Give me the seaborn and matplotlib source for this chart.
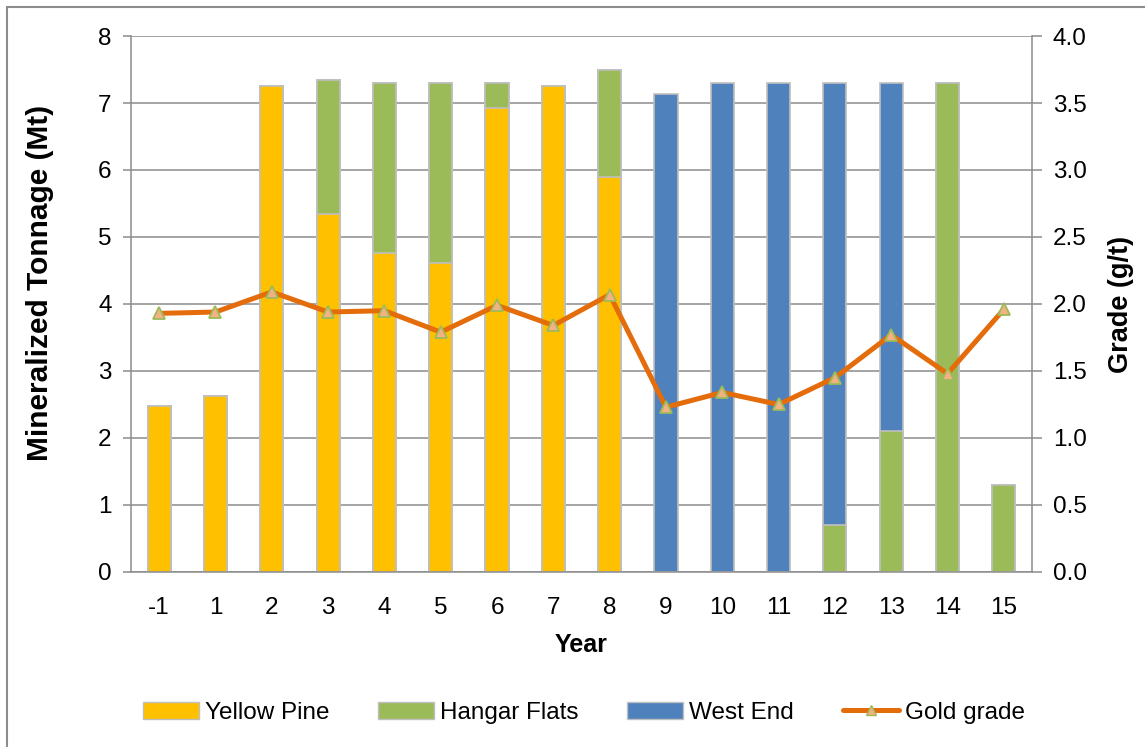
import numpy as np
import pandas as pd
import seaborn as sns
import matplotlib.pyplot as plt
from matplotlib.patches import Rectangle, Patch
from matplotlib.lines import Line2D

# data
years = ["-1", "1", "2", "3", "4", "5", "6", "7", "8", "9", "10", "11", "12", "13", "14", "15"]
yellow_pine = [2.48, 2.63, 7.25, 5.34, 4.76, 4.61, 6.93, 7.25, 5.90, 0, 0, 0, 0, 0, 0, 0]
hangar_flats = [0, 0, 0, 2.00, 2.54, 2.69, 0.37, 0, 1.59, 0, 0, 0, 0.70, 2.10, 7.30, 1.30]
west_end = [0, 0, 0, 0, 0, 0, 0, 0, 0, 7.13, 7.30, 7.30, 6.60, 5.20, 0, 0]
gold_grade = [1.93, 1.94, 2.09, 1.94, 1.95, 1.79, 1.99, 1.84, 2.07, 1.23, 1.34, 1.25, 1.45, 1.77, 1.48, 1.96]

c_yp = "#FFC000"
c_hf = "#9BBB59"
c_we = "#4F81BD"
c_line = "#E46C0A"
edge = "#BFBFBF"
grid = "#8C8C8C"

df = pd.DataFrame({"year": years, "yp": yellow_pine, "hf": hangar_flats, "we": west_end})
df["cum_hf"] = df["yp"] + df["hf"]
df["cum_we"] = df["cum_hf"] + df["we"]

sns.set_style("white")
plt.rcParams["font.family"] = ["Liberation Sans", "DejaVu Sans"]
plt.rcParams["text.color"] = "black"
plt.rcParams["axes.labelcolor"] = "black"

fs = 17.5

fig = plt.figure(figsize=(11.45, 7.47), dpi=100)
ax = fig.add_axes([0.1144, 0.2343, 0.7869, 0.7175])

# stacked bars: draw cumulative heights, tallest first
bar_kw = dict(width=0.41, edgecolor=edge, linewidth=1.2, order=years, ax=ax, zorder=2)
sns.barplot(data=df, x="year", y="cum_we", color=c_we, saturation=1, **bar_kw)
sns.barplot(data=df, x="year", y="cum_hf", color=c_hf, saturation=1, **bar_kw)
sns.barplot(data=df, x="year", y="yp", color=c_yp, saturation=1, **bar_kw)

ax.set_xlim(-0.5, len(years) - 0.5)
ax.set_ylim(0, 8)
ax.set_yticks(range(0, 9))
ax.yaxis.grid(True, color=grid, linewidth=1.1, zorder=0)
ax.set_axisbelow(True)
ax.set_xlabel("Year", fontsize=18, fontweight="bold", labelpad=10)
ax.set_ylabel("Mineralized Tonnage (Mt)", fontsize=21.5, fontweight="bold")
ax.yaxis.set_label_coords(-0.085, 0.54)
ax.tick_params(axis="x", which="major", length=0, labelsize=fs, pad=18, labelcolor="black")
ax.set_xticks(np.arange(-0.5, len(years)), minor=True)
ax.tick_params(axis="x", which="minor", length=6, color=grid, width=1.1, direction="out")
ax.tick_params(axis="y", length=6, color=grid, width=1.1, labelsize=fs, pad=8, left=True,
               labelcolor="black")

for side in ["left", "right", "bottom"]:
    ax.spines[side].set_color(grid)
    ax.spines[side].set_linewidth(1.1)
ax.spines["top"].set_visible(False)

ax2 = ax.twinx()
sns.lineplot(x=np.arange(len(years)), y=gold_grade, ax=ax2, color=c_line, linewidth=3.6,
             marker="^", markersize=8, markerfacecolor="#F4B183", markeredgecolor=c_hf,
             markeredgewidth=1.3, zorder=5)
ax2.set_ylim(0, 4)
ax2.set_yticks(np.arange(0, 4.01, 0.5))
ax2.set_yticklabels([f"{v:.1f}" for v in np.arange(0, 4.01, 0.5)])
ax2.set_ylabel("Grade (g/t)", fontsize=19.5, fontweight="bold", labelpad=15)
ax2.tick_params(axis="y", length=7, color=grid, width=1.1, labelsize=fs, pad=8, right=True,
                labelcolor="black")
for s in ax2.spines.values():
    s.set_visible(False)

handles = [
    Patch(facecolor=c_yp, edgecolor=edge, label="Yellow Pine"),
    Patch(facecolor=c_hf, edgecolor=edge, label="Hangar Flats"),
    Patch(facecolor=c_we, edgecolor=edge, label="West End"),
    Line2D([0], [0], color=c_line, linewidth=3.6, marker="^", markersize=7,
           markerfacecolor="#F4B183", markeredgecolor=c_hf, label="Gold grade"),
]
fig.legend(handles=handles, loc="center", bbox_to_anchor=(0.51, 0.046), ncol=4, frameon=False,
           fontsize=fs, handlelength=2.3, handleheight=0.7, handletextpad=0.25,
           columnspacing=2.0)

fig.patches.append(Rectangle((7 / 1145, -0.05), 1.2, 1 - 7 / 747 + 0.05, transform=fig.transFigure,
                             fill=False, edgecolor="#8C8C8C", linewidth=1.5))

fig.savefig("out.png", dpi=100)
